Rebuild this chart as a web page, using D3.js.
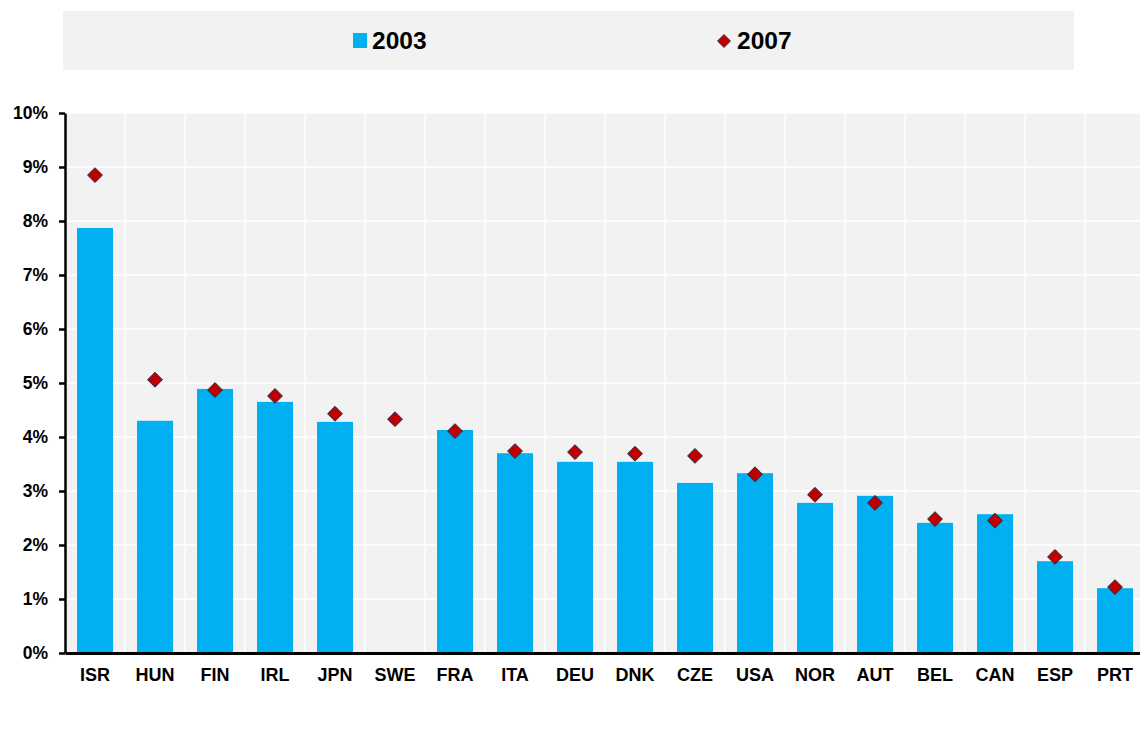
<!DOCTYPE html>
<html>
<head>
<meta charset="utf-8">
<script src="https://cdn.jsdelivr.net/npm/d3@7"></script>
<style>
  body { margin: 0; background: #fff; }
  svg { display: block; font-family: "Liberation Sans", Arial, sans-serif; font-weight: bold; }
</style>
</head>
<body>
<svg width="1140" height="736"></svg>
<script>
const countries = ["ISR", "HUN", "FIN", "IRL", "JPN", "SWE", "FRA", "ITA", "DEU",
                   "DNK", "CZE", "USA", "NOR", "AUT", "BEL", "CAN", "ESP", "PRT"];
const values2003 = [7.87, 4.30, 4.89, 4.65, 4.28, null, 4.13, 3.70, 3.54,
                    3.54, 3.15, 3.33, 2.78, 2.91, 2.41, 2.57, 1.70, 1.20];
const values2007 = [8.85, 5.06, 4.87, 4.76, 4.43, 4.33, 4.11, 3.74, 3.72,
                    3.69, 3.65, 3.31, 2.93, 2.78, 2.48, 2.45, 1.78, 1.22];
const yTicks = [0, 1, 2, 3, 4, 5, 6, 7, 8, 9, 10];
const seriesNames = ["2003", "2007"];

const svg = d3.select("svg");
const plotL = 65, plotR = 1145, plotT = 113, plotB = 653;

const x = d3.scaleBand().domain(countries).range([plotL, plotR]).padding(0);
const y = d3.scaleLinear().domain([0, 10]).range([plotB, plotT]);
const barW = x.bandwidth() * 0.6;

// legend box
svg.append("rect")
  .attr("x", 63).attr("y", 11).attr("width", 1011).attr("height", 59)
  .attr("fill", "#f2f2f2");

const legend = svg.append("g");
legend.append("rect")
  .attr("x", 353).attr("y", 33).attr("width", 14).attr("height", 15)
  .attr("fill", "#00b0f0");
legend.append("text").attr("x", 372).attr("y", 49)
  .attr("font-size", 24.5).text(seriesNames[0]);
legend.append("path")
  .attr("d", d3.symbol(d3.symbolDiamond2, 110)())
  .attr("transform", "translate(724,41)")
  .attr("fill", "#c00000").attr("stroke", "#1f2a44").attr("stroke-width", 0.8);
legend.append("text").attr("x", 737).attr("y", 49)
  .attr("font-size", 24.5).text(seriesNames[1]);

// plot background
svg.append("rect")
  .attr("x", plotL).attr("y", plotT).attr("width", plotR - plotL).attr("height", plotB - plotT)
  .attr("fill", "#f2f2f2");

// grid
svg.append("g").selectAll("line")
  .data(yTicks.slice(1))
  .join("line")
  .attr("x1", plotL).attr("x2", plotR)
  .attr("y1", d => y(d)).attr("y2", d => y(d))
  .attr("stroke", "#fff").attr("stroke-width", 1.5);
svg.append("g").selectAll("line")
  .data(countries.slice(1))
  .join("line")
  .attr("x1", d => x(d)).attr("x2", d => x(d))
  .attr("y1", plotT).attr("y2", plotB)
  .attr("stroke", "#fff").attr("stroke-width", 1.5);

// bars
svg.append("g").selectAll("rect")
  .data(countries.map((c, i) => ({c, v: values2003[i]})).filter(d => d.v != null))
  .join("rect")
  .attr("x", d => x(d.c) + (x.bandwidth() - barW) / 2)
  .attr("width", barW)
  .attr("y", d => y(d.v))
  .attr("height", d => y(0) - y(d.v))
  .attr("fill", "#00b0f0");

// diamonds
svg.append("g").selectAll("path")
  .data(countries.map((c, i) => ({c, v: values2007[i]})))
  .join("path")
  .attr("d", d3.symbol(d3.symbolDiamond2, 140)())
  .attr("transform", d => `translate(${x(d.c) + x.bandwidth() / 2},${y(d.v)})`)
  .attr("fill", "#c00000").attr("stroke", "#1f2a44").attr("stroke-width", 1);

// y axis
const yAxis = svg.append("g")
  .attr("transform", `translate(${plotL},0)`)
  .call(d3.axisLeft(y).tickValues(yTicks).tickFormat(d => d + "%").tickSize(6).tickSizeOuter(0).tickPadding(8));
yAxis.select(".domain").attr("stroke", "#000").attr("stroke-width", 2.5);
yAxis.selectAll(".tick line").attr("stroke", "#000").attr("stroke-width", 2.5);
yAxis.selectAll("text").attr("font-size", 17.5).attr("font-family", "Liberation Sans, Arial, sans-serif")
  .attr("font-weight", "bold").attr("fill", "#000").attr("dx", "-3");

// x axis
const xAxis = svg.append("g")
  .attr("transform", `translate(0,${plotB})`)
  .call(d3.axisBottom(x).tickSize(0).tickPadding(15));
xAxis.select(".domain").attr("stroke", "#000").attr("stroke-width", 3);
xAxis.selectAll("text").attr("font-size", 18).attr("font-family", "Liberation Sans, Arial, sans-serif")
  .attr("font-weight", "bold").attr("fill", "#000");
</script>
</body>
</html>
